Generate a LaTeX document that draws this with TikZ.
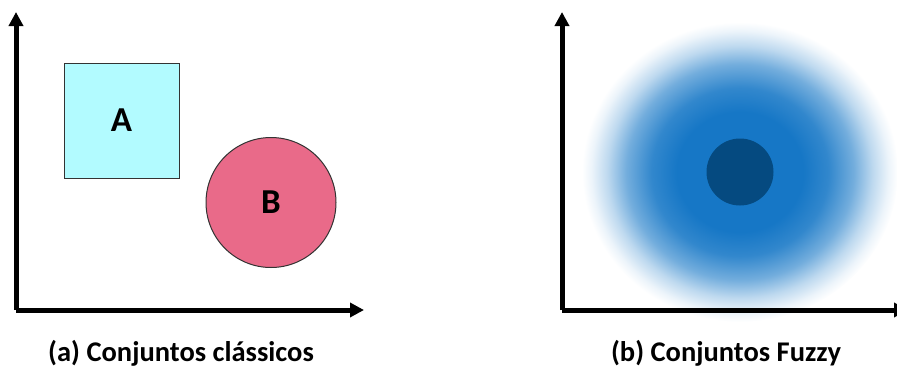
\documentclass[tikz,border=0pt]{standalone}
\usepackage{fontspec}
\setmainfont{Carlito}
\usetikzlibrary{arrows.meta}
\definecolor{setA}{HTML}{B2FBFF}
\definecolor{setB}{HTML}{E96A89}
\definecolor{fzblue}{HTML}{1677C6}
\definecolor{fzcore}{HTML}{054A80}
\pgfdeclareradialshading{fuzzyglow}{\pgfpoint{0bp}{0bp}}{%
  color(0bp)=(fzblue); color(10bp)=(fzblue); color(14bp)=(fzblue!88);
  color(18bp)=(fzblue!60); color(21bp)=(fzblue!28); color(23.5bp)=(fzblue!8);
  color(25bp)=(white); color(50bp)=(white)}
\tikzset{
  axis/.style={line width=5pt, -{Triangle[length=14pt,width=14pt]}},
  setlabel/.style={font=\bfseries\fontsize{35}{38}\selectfont},
  caption/.style={font=\bfseries\fontsize{28.5}{30}\selectfont}
}
\begin{document}
\begin{tikzpicture}[x=1pt,y=-1pt]
\useasboundingbox (0,0) rectangle (897,370);

% classical sets
\coordinate (o1) at (16,310);
\coordinate (y1) at (16,12);
\coordinate (x1) at (364,310);
\node[draw=black!80, line width=1pt, fill=setA, minimum size=115pt, inner sep=0pt] (A) at (121.5,120.5) {};
\node[setlabel] at (A) {A};
\node[circle, draw=black!80, line width=1pt, fill=setB, minimum size=130pt, inner sep=0pt] (B) at (271,202.5) {};
\node[setlabel] at (B) {B};
\draw[axis] (o1) -- (y1);
\draw[axis] (o1) -- (x1);
\node[caption] (capa) at (181,353) {(a) Conjuntos clássicos};

% fuzzy set: soft glow around a solid core
\coordinate (c) at (740,172);
\shade[shading=fuzzyglow] (c) ellipse [x radius=158pt, y radius=150pt];
\node[circle, fill=fzcore, minimum size=67pt, inner sep=0pt] (core) at (c) {};
\coordinate (o2) at (562,310);
\coordinate (y2) at (562,12);
\coordinate (x2) at (908,310);
\draw[axis] (o2) -- (y2);
\draw[axis] (o2) -- (x2);
\node[caption] (capb) at (726,353) {(b) Conjuntos Fuzzy};
\end{tikzpicture}
\end{document}
